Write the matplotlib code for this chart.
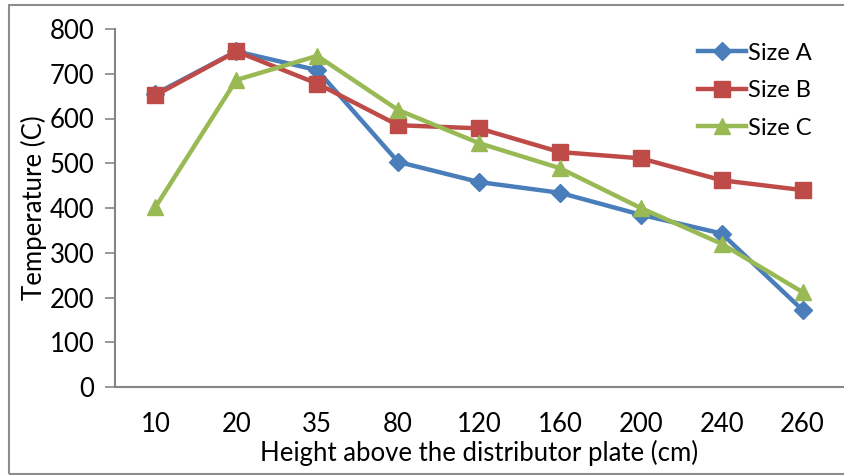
import matplotlib.pyplot as plt
from matplotlib.patches import Rectangle

heights = ["10", "20", "35", "80", "120", "160", "200", "240", "260"]
size_a = [655, 750, 708, 503, 458, 434, 385, 343, 172]
size_b = [652, 750, 678, 585, 578, 525, 511, 462, 440]
size_c = [402, 686, 740, 619, 545, 489, 400, 320, 212]

plt.rcParams['font.family'] = ['Lato', 'DejaVu Sans']
plt.rcParams['font.size'] = 18.5

fig = plt.figure(figsize=(8.45, 4.75), dpi=100)
ax = fig.add_axes([115/845, 1-387/475, 728/845, 358/475])

# outer chart border
fig.patches.append(Rectangle((9/845, 1-474/475), 0.995, 469/475, transform=fig.transFigure,
                             fill=False, edgecolor='#8c8c8c', linewidth=1.5))

x = range(len(heights))
ax.plot(x, size_a, color='#4A7EBB', lw=3.2, marker='D', ms=9, label='Size A')
ax.plot(x, size_b, color='#BE4B48', lw=3.2, marker='s', ms=11, label='Size B')
ax.plot(x, size_c, color='#98B954', lw=3.2, marker='^', ms=12, label='Size C')

ax.set_xlim(-0.5, len(heights) - 0.5)
ax.set_ylim(0, 800)
ax.set_yticks(range(0, 801, 100))
ax.set_xticks(list(x))
ax.set_xticklabels(heights)
ax.tick_params(axis='x', length=0, pad=18)
ax.tick_params(axis='y', length=7, width=1.2, color='#868686', pad=8)

for side in ['top', 'right']:
    ax.spines[side].set_visible(False)
for side in ['left', 'bottom']:
    ax.spines[side].set_color('#868686')
    ax.spines[side].set_linewidth(1.5)

ax.set_xlabel("Height above the distributor plate (cm)", labelpad=2)
ax.set_ylabel("Temperature (C)", labelpad=2)

ax.legend(loc='upper left', bbox_to_anchor=(0.785, 0.995), frameon=False, fontsize=17,
          handlelength=2.0, handletextpad=0.1, labelspacing=0.7, borderpad=0)

fig.savefig('out.png', dpi=100)
